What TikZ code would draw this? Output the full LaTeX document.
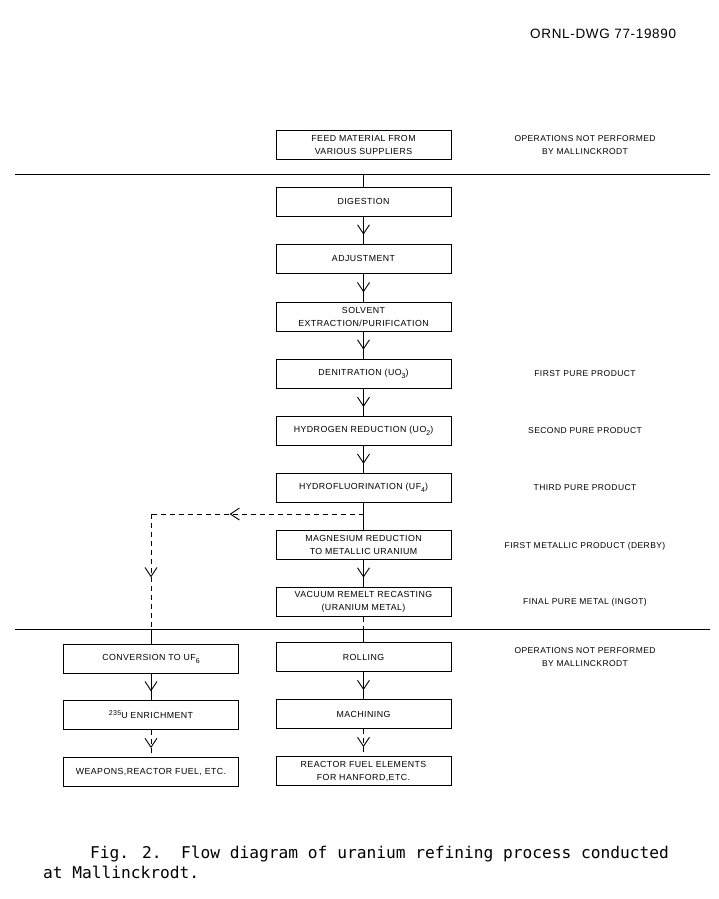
\documentclass[tikz,border=0pt]{standalone}
\usepackage{fontspec}
\setmainfont{Liberation Sans}[LetterSpace=5]
\newfontfamily\capfont{DejaVu Sans Mono}
\usetikzlibrary{arrows.meta,decorations.markings}
\newcommand{\dsub}[1]{{\fontsize{7}{7}\selectfont\raisebox{-3pt}{#1}}}
\begin{document}
\begin{tikzpicture}[x=1pt,y=-1pt,
  stepbox/.style={draw, line width=1pt, minimum width=175pt, minimum height=29pt, inner sep=0pt, align=center, font=\fontsize{8.8}{13}\selectfont},
  lbl/.style={align=center, font=\fontsize{8.5}{13}\selectfont},
  conn/.style={line width=0.9pt},
  dsh/.style={line width=0.9pt, dash pattern=on 5pt off 4pt},
  chev/.style={postaction={decorate}, decoration={markings, mark=at position #1 with {\arrow{Straight Barb[length=9pt,width=12pt,line width=0.9pt]}}}},
  chev/.default=0.67
]
\useasboundingbox (0,0) rectangle (719,899);

\node[font=\fontsize{13.5}{15}\selectfont, anchor=base west, inner sep=0pt] (title) at (530,39) {ORNL-DWG 77-19890};

% separators
\draw[conn] (15,174) -- (710,174);
\draw[conn] (15,629) -- (710,629);

% main column
\node[stepbox] (feed) at (363.5,144.5) {FEED MATERIAL FROM\\VARIOUS SUPPLIERS};
\node[stepbox] (dig) at (363.5,201.5) {DIGESTION};
\node[stepbox] (adj) at (363.5,258.5) {ADJUSTMENT};
\node[stepbox] (solv) at (363.5,316.5) {SOLVENT\\EXTRACTION/PURIFICATION};
\node[stepbox] (denit) at (363.5,373.5) {DENITRATION (UO\dsub{3})};
\node[stepbox] (hred) at (363.5,431) {HYDROGEN REDUCTION (UO\dsub{2})};
\node[stepbox] (hf) at (363.5,487.5) {HYDROFLUORINATION (UF\dsub{4})};
\node[stepbox] (mg) at (363.5,544.5) {MAGNESIUM REDUCTION\\TO METALLIC URANIUM};
\node[stepbox] (vac) at (363.5,601.5) {VACUUM REMELT RECASTING\\(URANIUM METAL)};
\node[stepbox] (roll) at (363.5,657) {ROLLING};
\node[stepbox] (mach) at (363.5,714) {MACHINING};
\node[stepbox] (rfe) at (363.5,771) {REACTOR FUEL ELEMENTS\\FOR HANFORD,ETC.};

% left column
\node[stepbox] (conv) at (151,658.5) {CONVERSION TO UF\dsub{6}};
\node[stepbox] (enr) at (151,715) {\raisebox{3pt}{\fontsize{7}{7}\selectfont 235}U ENRICHMENT};
\node[stepbox] (weap) at (151,772) {WEAPONS,REACTOR FUEL, ETC.};

% right labels
\node[lbl] (l1) at (585,145.5) {OPERATIONS NOT PERFORMED\\BY MALLINCKRODT};
\node[lbl] (l2) at (585,374) {FIRST PURE PRODUCT};
\node[lbl] (l3) at (585,431) {SECOND PURE PRODUCT};
\node[lbl] (l4) at (585,488) {THIRD PURE PRODUCT};
\node[lbl] (l5) at (585,546) {FIRST METALLIC PRODUCT (DERBY)};
\node[lbl] (l6) at (585,602) {FINAL PURE METAL (INGOT)};
\node[lbl] (l7) at (585,657.5) {OPERATIONS NOT PERFORMED\\BY MALLINCKRODT};

% coordinates
\coordinate (s0) at (363.5,174);
\coordinate (s2) at (363.5,629);
\coordinate (br) at (363.5,514);
\coordinate (cr) at (151,514);
\coordinate (s1) at (151,629);

% connectors main
\draw[conn] (s0) -- (dig.north);
\draw[conn,chev] (dig.south) -- (adj.north);
\draw[conn,chev] (adj.south) -- (solv.north);
\draw[conn,chev] (solv.south) -- (denit.north);
\draw[conn,chev] (denit.south) -- (hred.north);
\draw[conn,chev] (hred.south) -- (hf.north);
\draw[conn] (hf.south) -- (mg.north);
\draw[conn,chev] (mg.south) -- (vac.north);
\draw[dsh] (vac.south) -- (s2);
\draw[conn] (s2) -- (roll.north);
\draw[conn,chev] (roll.south) -- (mach.north);
\draw[dsh,chev] (mach.south) -- (rfe.north);

% branch
\draw[dsh,chev=0.63] (br) -- (cr);
\draw[dsh,chev=0.55] (cr) -- (s1);
\draw[conn] (s1) -- (conv.north);
\draw[conn,chev] (conv.south) -- (enr.north);
\draw[dsh,chev] (enr.south) -- (weap.north);

% caption
\node[font=\capfont\fontsize{16.2}{18}\selectfont, anchor=base west, inner sep=0pt] (cap1) at (90,858) {Fig. 2.\ \ Flow diagram of uranium refining process conducted};
\node[font=\capfont\fontsize{16.2}{18}\selectfont, anchor=base west, inner sep=0pt] (cap2) at (43,878) {at Mallinckrodt.};
\end{tikzpicture}
\end{document}
